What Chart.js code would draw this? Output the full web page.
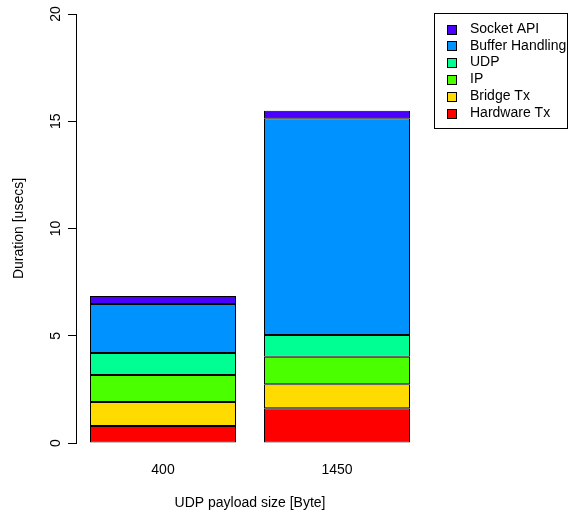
<!DOCTYPE html>
<html>
<head>
<meta charset="utf-8">
<script src="https://cdn.jsdelivr.net/npm/chart.js@4/dist/chart.umd.min.js"></script>
<style>
  html, body { margin: 0; padding: 0; background: #fff; }
</style>
</head>
<body>
<canvas id="chart" width="568" height="512"></canvas>
<script>
// payload sizes on x
var sizes = ['400', '1450'];

// stack segments, bottom to top (usecs)
var hardwareTx = [0.79, 1.62];
var bridgeTx = [1.12, 1.12];
var ipLayer = [1.26, 1.28];
var udpLayer = [1.03, 1.01];
var bufferHandling = [2.28, 10.11];
var socketApi = [0.37, 0.35];

var yTicks = [0, 5, 10, 15, 20];

var names = ['Hardware Tx', 'Bridge Tx', 'IP', 'UDP', 'Buffer Handling', 'Socket API'];
var colors = ['#FF0000', '#FFDB00', '#49FF00', '#00FF92', '#0092FF', '#4900FF'];
var series = [hardwareTx, bridgeTx, ipLayer, udpLayer, bufferHandling, socketApi];

var FONT = 'Liberation Sans, Arial, Helvetica, sans-serif';
var FS = 14;

var datasets = series.map(function(d, i){
    return {
        label: names[i],
        data: d,
        backgroundColor: colors[i],
        borderColor: '#000',
        borderWidth: 1,
        borderSkipped: false,
        barPercentage: 0.839,
        categoryPercentage: 1.0
    };
});

// y tick labels, rotated like R does it
var yLabels = {
    id: 'yLabels',
    afterDraw: function(chart){
        var ctx = chart.ctx;
        var sc = chart.scales.y;
        ctx.save();
        ctx.fillStyle = '#000';
        ctx.font = FS + 'px ' + FONT;
        ctx.textAlign = 'center';
        ctx.textBaseline = 'middle';
        yTicks.forEach(function(v){
            var py = sc.getPixelForValue(v);
            ctx.save();
            ctx.translate(56, py);
            ctx.rotate(-Math.PI / 2);
            ctx.fillText(String(v), 0, 0);
            ctx.restore();
        });
        ctx.restore();
    }
};

// boxed legend top right, top segment first
var boxLegend = {
    id: 'boxLegend',
    afterDraw: function(chart){
        var ctx = chart.ctx;
        var x0 = 434, y0 = 13, w = 133, h = 115;
        ctx.save();
        ctx.strokeStyle = '#000';
        ctx.lineWidth = 1;
        ctx.strokeRect(x0 + 0.5, y0 + 0.5, w, h);
        ctx.font = FS + 'px ' + FONT;
        ctx.textBaseline = 'middle';
        ctx.textAlign = 'left';
        var ds = chart.data.datasets.slice().reverse();
        ds.forEach(function(d, i){
            var cy = 29 + i * 16.8;
            var sy = Math.round(cy - 4.5);
            ctx.fillStyle = d.backgroundColor;
            ctx.fillRect(447, sy, 9, 9);
            ctx.strokeRect(447.5, sy + 0.5, 9, 9);
            ctx.fillStyle = '#000';
            ctx.fillText(d.label, 470, cy);
        });
        ctx.restore();
    }
};

new Chart(document.getElementById('chart'), {
    type: 'bar',
    data: { labels: sizes, datasets: datasets },
    options: {
        responsive: false,
        animation: false,
        layout: { padding: { top: 14, right: 144, left: 0, bottom: 0 } },
        plugins: {
            legend: { display: false },
            tooltip: { enabled: false }
        },
        scales: {
            x: {
                stacked: true,
                grid: { display: false, drawTicks: false },
                border: { display: false },
                ticks: { color: '#000', font: { family: FONT, size: FS }, padding: 19 },
                title: {
                    display: true,
                    text: 'UDP payload size [Byte]',
                    color: '#000',
                    font: { family: FONT, size: FS },
                    padding: { top: 0, bottom: 0 }
                },
                afterFit: function(s){ s.height = 69; }
            },
            y: {
                stacked: true,
                min: 0,
                max: 20,
                afterBuildTicks: function(s){
                    s.ticks = yTicks.map(function(v){ return { value: v }; });
                },
                grid: { drawOnChartArea: false, drawTicks: true, tickLength: 8, color: '#000' },
                border: { display: true, color: '#000' },
                ticks: { display: false },
                title: {
                    display: true,
                    text: 'Duration [usecs]',
                    color: '#000',
                    font: { family: FONT, size: FS },
                    padding: { top: 11, bottom: 0 }
                },
                afterFit: function(s){ s.width = 76; }
            }
        }
    },
    plugins: [yLabels, boxLegend]
});
</script>
</body>
</html>
